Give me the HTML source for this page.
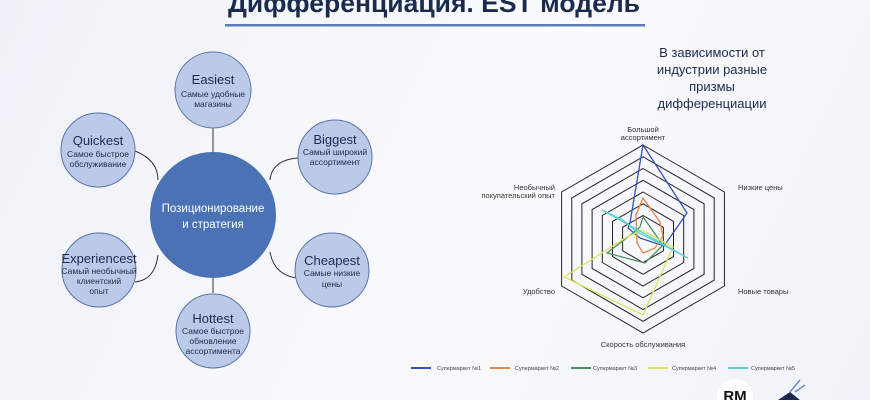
<!DOCTYPE html>
<html><head><meta charset="utf-8"><style>
html,body{margin:0;padding:0}
body{width:870px;height:400px;overflow:hidden;position:relative;font-family:"Liberation Sans","Noto Sans CJK SC",sans-serif;background:linear-gradient(115deg,#eef1f7 0%,#f7f8fb 40%,#fbfbfd 55%,#eff2f8 100%)}
svg{position:absolute;left:0;top:0}
</style></head><body>
<svg width="870" height="400" viewBox="0 0 870 400">
<text x="434" y="12" text-anchor="middle" font-size="26" font-weight="bold" fill="#1b2b4f" font-family="Liberation Sans, sans-serif" textLength="412" lengthAdjust="spacingAndGlyphs">Дифференциация. EST модель</text>
<rect x="225" y="24" width="420" height="2.5" fill="#5b7db5"/>
<g stroke="#333" stroke-width="1" fill="none">
<line x1="213" y1="127" x2="213" y2="153"/>
<line x1="213" y1="278" x2="213" y2="293"/>
<path d="M135 151 Q158 160 158 180"/>
<path d="M298 158 Q272 160 270 180"/>
<path d="M270 252 Q274 275 297 278"/>
<path d="M158 255 Q155 280 135 282"/>
</g>
<g fill="#bccaea" stroke="#5a74a8" stroke-width="1">
<circle cx="213" cy="90" r="38"/>
<circle cx="98" cy="150" r="37"/>
<circle cx="335" cy="157" r="37"/>
<circle cx="332" cy="270" r="37"/>
<circle cx="99" cy="270" r="37"/>
<circle cx="213" cy="331" r="37"/>
</g>
<circle cx="213" cy="215" r="63" fill="#4a72b5"/>
<g text-anchor="middle" fill="#1b2b4f" font-family="Liberation Sans, sans-serif">
<text x="213" y="84" font-size="13">Easiest</text>
<text x="213" y="97" font-size="8.5">Самые удобные</text><text x="213" y="107" font-size="8.5">магазины</text>
<text x="98" y="145" font-size="13">Quickest</text>
<text x="98" y="157" font-size="8.5">Самое быстрое</text><text x="98" y="167" font-size="8.5">обслуживание</text>
<text x="335" y="144" font-size="13">Biggest</text>
<text x="335" y="155" font-size="8.5">Самый широкий</text><text x="335" y="165" font-size="8.5">ассортимент</text>
<text x="332" y="265" font-size="13">Cheapest</text>
<text x="332" y="276" font-size="8.5">Самые низкие</text><text x="332" y="287" font-size="8.5">цены</text>
<text x="99" y="263" font-size="13">Experiencest</text>
<text x="99" y="274" font-size="8.5">Самый необычный</text><text x="99" y="284" font-size="8.5">клиентский</text><text x="99" y="294" font-size="8.5">опыт</text>
<text x="213" y="323" font-size="13">Hottest</text>
<text x="213" y="334" font-size="8.5">Самое быстрое</text><text x="213" y="344" font-size="8.5">обновление</text><text x="213" y="354" font-size="8.5">ассортимента</text>
<text x="213" y="212" font-size="11.5" fill="#fff">Позиционирование</text>
<text x="213" y="228" font-size="11.5" fill="#fff">и стратегия</text>
</g>
<g text-anchor="middle" fill="#1b2b4f" font-size="13">
<text x="712" y="57">В зависимости от</text>
<text x="712" y="74">индустрии разные</text>
<text x="712" y="91">призмы</text>
<text x="712" y="108">дифференциации</text>
</g>
<g stroke="#222" stroke-width="1" fill="none" id="rings"></g>
<g fill="#333" font-size="7.5" font-family="Liberation Sans, sans-serif">
<text x="643" y="132" text-anchor="middle">Большой</text>
<text x="643" y="140" text-anchor="middle">ассортимент</text>
<text x="738" y="190">Низкие цены</text>
<text x="738" y="294">Новые товары</text>
<text x="643" y="347" text-anchor="middle">Скорость обслуживания</text>
<text x="555" y="294" text-anchor="end">Удобство</text>
<text x="555" y="190" text-anchor="end">Необычный</text>
<text x="555" y="198" text-anchor="end">покупательский опыт</text>
</g>
<g fill="none" stroke-width="1.3">
<polygon stroke="#3652b8" points="643,145 687,213 664,246 640,238 628,228 630,223"/>
<polygon stroke="#e0884a" points="643,198 660,222 663,236 655,248 643,253 637,243 636,215"/>
<polygon stroke="#4e9060" points="643,217 663,245 645,263 607,253 633,233 640,227"/>
<polygon stroke="#e0e060" points="564,277 643,315 673,247 642,230 627,237"/>
<polygon stroke="#5ccfd0" points="602,210 688,258 667,247 637,232 623,220"/>
</g>
<g stroke-width="2">
<line x1="411" y1="368" x2="431" y2="368" stroke="#3652b8"/>
<line x1="490" y1="368" x2="510" y2="368" stroke="#e0884a"/>
<line x1="571" y1="368" x2="591" y2="368" stroke="#4e9060"/>
<line x1="648" y1="368" x2="668" y2="368" stroke="#e0e060"/>
<line x1="728" y1="368" x2="748" y2="368" stroke="#5ccfd0"/>
</g>
<g fill="#444" font-size="5.5">
<text x="437" y="370">Супермаркет №1</text>
<text x="515" y="370">Супермаркет №2</text>
<text x="593" y="370">Супермаркет №3</text>
<text x="672" y="370">Супермаркет №4</text>
<text x="751" y="370">Супермаркет №5</text>
</g>
<circle cx="735" cy="397" r="18" fill="#fff"/>
<text x="735" y="401" text-anchor="middle" font-size="15" font-weight="bold" fill="#111">RM</text>
<path d="M778 400 L790 392 L800 400 Z" fill="#1b2b4f"/>
<path d="M790 392 L800 380 M795 392 L805 385" stroke="#6d8cc8" stroke-width="1.5" fill="none"/>
</svg>
<script>
var g=document.getElementById('rings'),cx=643,cy=239,s='';
for(var k=2;k<=8;k++){var r=94*k/8,p=[];for(var i=0;i<6;i++){var a=Math.PI/180*(-90+60*i);p.push((cx+r*Math.cos(a)).toFixed(1)+','+(cy+r*Math.sin(a)).toFixed(1));}
s+='<polygon points="'+p.join(' ')+'"/>';}
g.innerHTML=s;
</script>
</body></html>
